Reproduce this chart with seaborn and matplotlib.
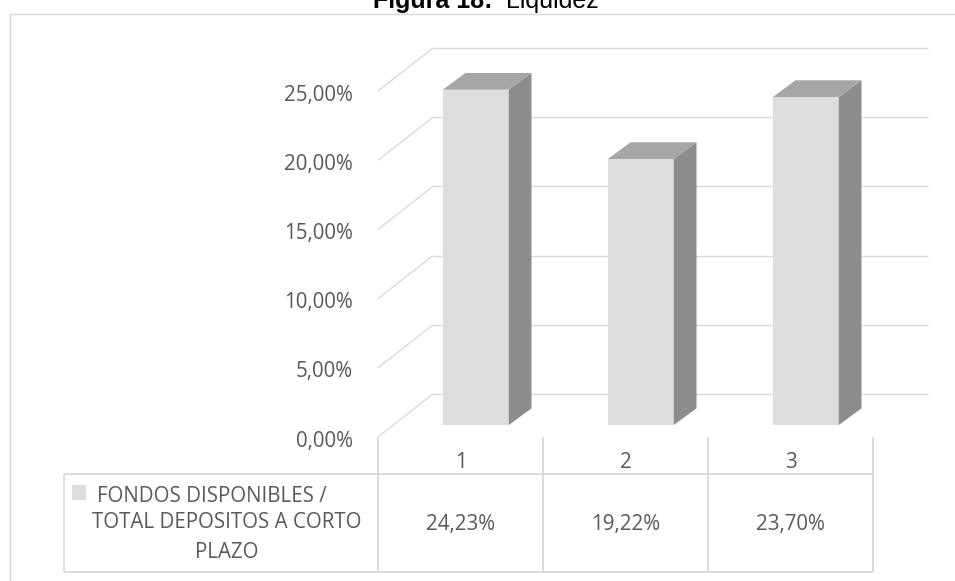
import matplotlib
matplotlib.use("Agg")
import matplotlib.pyplot as plt
import seaborn as sns
import pandas as pd
from matplotlib.transforms import ScaledTranslation
from matplotlib.patches import Polygon, Rectangle

# ---- data -------------------------------------------------------------
periods = ["1", "2", "3"]
liquidity = [24.23, 19.22, 23.70]
series_lines = ["FONDOS DISPONIBLES /", "TOTAL DEPOSITOS A CORTO", "PLAZO"]
y_ticks = [0, 5, 10, 15, 20, 25]
title_bold = "Figura 18:"
title_rest = "Liquidez"

# ---- figure setup ---------------------------------------------------------
W, H, DPI = 955, 581, 100
sns.set_theme(style="white")
plt.rcParams["font.family"] = ["Open Sans", "DejaVu Sans"]

FRONT = "#dddddd"
TOP = "#a6a6a6"
SIDE = "#8c8c8c"
GRID = "#d9d9d9"
TEXT = "#595959"
FS = 14.8

# oblique depth offsets (pixels, y up) relative to the plane of the bar faces
FRONT_EDGE = (-15.3, -12.0)
BACK_WALL = (39.7, 31.0)
BAR_DEPTH = (22.7, 16.7)

fig = plt.figure(figsize=(W / DPI, H / DPI), dpi=DPI)
fig.patch.set_facecolor("white")


def px_box(l, t, r, b):
    return [l / W, 1 - b / H, (r - l) / W, (b - t) / H]


# overlay in pixel units for the frame and the data table
ov = fig.add_axes([0, 0, 1, 1], zorder=0)
ov.set_xlim(0, W)
ov.set_ylim(H, 0)
ov.set_axis_off()

# plotting axes: the plane of the bar front faces
ax = fig.add_axes(px_box(393.3, 79, 888.3, 425), zorder=1)
ax.patch.set_alpha(0)

df = pd.DataFrame({"periodo": periods, "valor": liquidity})
sns.barplot(data=df, x="periodo", y="valor", color=FRONT, saturation=1,
            width=0.4, linewidth=0, ax=ax, zorder=3)
ax.set_xlim(-0.5, len(periods) - 0.5)
ax.set_ylim(0, 25)
ax.set_axis_off()


def shift(pt, off):
    """Move a data point by a pixel offset and return data coordinates."""
    d = ax.transData.transform(pt)
    return ax.transData.inverted().transform((d[0] + off[0], d[1] + off[1]))


def shifted(dx, dy):
    return ax.transData + ScaledTranslation(dx / DPI, dy / DPI, fig.dpi_scale_trans)


x0, x1 = -0.5, len(periods) - 0.5

# back wall and side wall gridlines
for v in y_ticks:
    a = shift((x0, v), BACK_WALL)
    b = shift((x1, v), BACK_WALL)
    f = shift((x0, v), FRONT_EDGE)
    ax.plot([a[0], b[0]], [a[1], b[1]], color=GRID, lw=1.0,
            clip_on=False, zorder=1, solid_capstyle="butt")
    ax.plot([f[0], a[0]], [f[1], a[1]], color=GRID, lw=1.0,
            clip_on=False, zorder=1, solid_capstyle="butt")
    lbl = f"{v:.2f}".replace(".", ",") + "%"
    ax.text(x0, v, lbl, transform=shifted(-40.3, -21.7), ha="right",
            va="baseline", fontsize=FS, color=TEXT)

# side and top faces of each column
for bar in ax.patches:
    xl = bar.get_x()
    xr = xl + bar.get_width()
    top = bar.get_height()
    side = [(xr, 0), (xr, top), shift((xr, top), BAR_DEPTH), shift((xr, 0), BAR_DEPTH)]
    cap = [(xl, top), (xr, top), shift((xr, top), BAR_DEPTH), shift((xl, top), BAR_DEPTH)]
    ax.add_patch(Polygon(side, closed=True, facecolor=SIDE, edgecolor="none",
                         clip_on=False, zorder=3))
    ax.add_patch(Polygon(cap, closed=True, facecolor=TOP, edgecolor="none",
                         clip_on=False, zorder=3))

# ---- data table -----------------------------------------------------------
bounds = [x0 + i for i in range(len(periods) + 1)]
col_px = []
for bnd in bounds:
    d = ax.transData.transform((bnd, 0))
    col_px.append((d[0] + FRONT_EDGE[0], H - (d[1] + FRONT_EDGE[1])))
tbl_top = col_px[0][1]
hdr_bot = tbl_top + 37
tbl_bot = hdr_bot + 98
key_left = 64

lk = dict(color=GRID, lw=1.3, solid_capstyle="butt")
for cx, _ in col_px:
    ov.plot([cx, cx], [tbl_top, tbl_bot], **lk)
ov.plot([key_left, col_px[-1][0]], [hdr_bot, hdr_bot], **lk)
ov.plot([key_left, col_px[-1][0]], [tbl_bot, tbl_bot], **lk)
ov.plot([key_left, key_left], [hdr_bot, tbl_bot], **lk)

for i, (p, v) in enumerate(zip(periods, liquidity)):
    cx = (col_px[i][0] + col_px[i + 1][0]) / 2
    ov.text(cx, hdr_bot - 6, p, ha="center", va="baseline", fontsize=FS, color=TEXT)
    ov.text(cx, tbl_bot - 42, f"{v:.2f}".replace(".", ",") + "%", ha="center",
            va="baseline", fontsize=FS, color=TEXT)

ov.add_patch(Rectangle((72, 485), 14, 15, facecolor=FRONT, edgecolor="none"))
for (tx, ty), line in zip([(212, 502), (227, 527.5), (227, 558)], series_lines):
    ov.text(tx, ty, line, ha="center", va="baseline", fontsize=FS, color=TEXT)

# ---- chart frame and caption ----------------------------------------------
ov.plot([9, W], [13.5, 13.5], color=GRID, lw=1.0, solid_capstyle="butt")
ov.plot([9.5, 9.5], [13.5, H], color=GRID, lw=1.0, solid_capstyle="butt")

ov.text(373, 8, title_bold, ha="left", va="baseline", fontsize=18,
        fontweight="bold", color="black", family=["Liberation Sans", "DejaVu Sans"])
ov.text(506, 8, title_rest, ha="left", va="baseline", fontsize=18,
        color="black", family=["Liberation Sans", "DejaVu Sans"])

fig.savefig("out.png", dpi=DPI, facecolor="white")
